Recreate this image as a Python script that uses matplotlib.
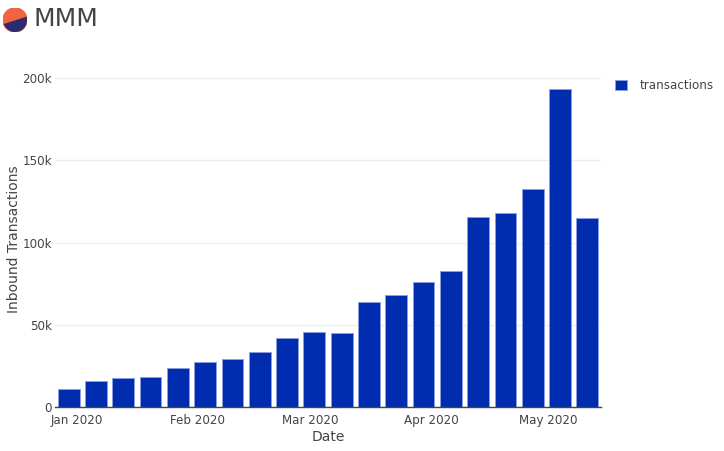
import matplotlib
matplotlib.use('Agg')
import matplotlib.pyplot as plt
import matplotlib.dates as mdates
from matplotlib.patches import Circle, Polygon
from matplotlib.ticker import FuncFormatter
import pandas as pd

# Weekly inbound transactions (weeks starting on Monday)
week_start = '2019-12-30'
n_weeks = 20
transactions = [11100, 16000, 17400, 18400, 23700, 27300, 29200, 33400, 41900, 45600,
                45000, 63600, 68000, 76100, 82800, 115800, 117900, 132500, 193400, 115000]
y_ticks = [0, 50000, 100000, 150000, 200000]
x_ticks = ['2020-01-01', '2020-02-01', '2020-03-01', '2020-04-01', '2020-05-01']

dates = pd.date_range(week_start, periods=n_weeks, freq='7D')
df = pd.DataFrame({'Date': dates, 'transactions': transactions})

plt.rcParams['font.family'] = ['DejaVu Sans']

fig = plt.figure(figsize=(7.24, 4.51), dpi=100)
ax = fig.add_axes([55 / 724, 44 / 451, 546 / 724, 335 / 451])

bar_color = '#002db0'
ax.bar(df['Date'], df['transactions'], width=5.6, color=bar_color,
       edgecolor='#8a9ee0', linewidth=0.7, label='transactions', zorder=3)

# Axis ranges like plotly autorange
ax.set_xlim(dates[0] - pd.Timedelta(days=3.5), dates[-1] + pd.Timedelta(days=3.5))
ax.set_ylim(0, max(transactions) * 1.053)

ax.set_yticks(y_ticks)
ax.yaxis.set_major_formatter(FuncFormatter(lambda v, p: '0' if v == 0 else f'{int(v / 1000)}k'))
ax.set_xticks(pd.to_datetime(x_ticks))
ax.xaxis.set_major_formatter(mdates.DateFormatter('%b %Y'))

ax.tick_params(axis='both', length=0, labelsize=8.6, labelcolor='#444444')
ax.tick_params(axis='x', pad=5)
ax.tick_params(axis='y', pad=2)

ax.grid(axis='y', color='#eeeeee', linewidth=1, zorder=0)
for side in ['top', 'right', 'left']:
    ax.spines[side].set_visible(False)
ax.spines['bottom'].set_color('#444444')
ax.spines['bottom'].set_linewidth(1)
ax.spines['bottom'].set_zorder(4)

ax.set_xlabel('Date', fontsize=10, color='#444444', labelpad=2)
ax.set_ylabel('Inbound Transactions', fontsize=10, color='#444444')
ax.yaxis.set_label_coords(-0.062, 0.5)

ax.legend(loc='upper left', bbox_to_anchor=(615 / 724, 1 - 79 / 451), bbox_transform=fig.transFigure,
          frameon=False, fontsize=8.6, labelcolor='#444444', handlelength=1.0, handleheight=1.0,
          handletextpad=1.1, borderpad=0, borderaxespad=0)

# Title with round logo
fig.text(33 / 724, 1 - 19 / 451, 'MMM', fontsize=18, color='#444444', ha='left', va='center')
logo = fig.add_axes([3 / 724, 1 - 32 / 451, 24 / 724, 24 / 451])
disc = Circle((0, 0), 1, color='#f26440')
logo.add_patch(disc)
lower = Polygon([(-1.1, -0.45), (1.1, 0.26), (1.1, -1.1), (-1.1, -1.1)], color='#2b2c70')
logo.add_patch(lower)
lower.set_clip_path(disc)
logo.set_xlim(-1, 1)
logo.set_ylim(-1, 1)
logo.axis('off')

plt.savefig('out.png', dpi=100)
